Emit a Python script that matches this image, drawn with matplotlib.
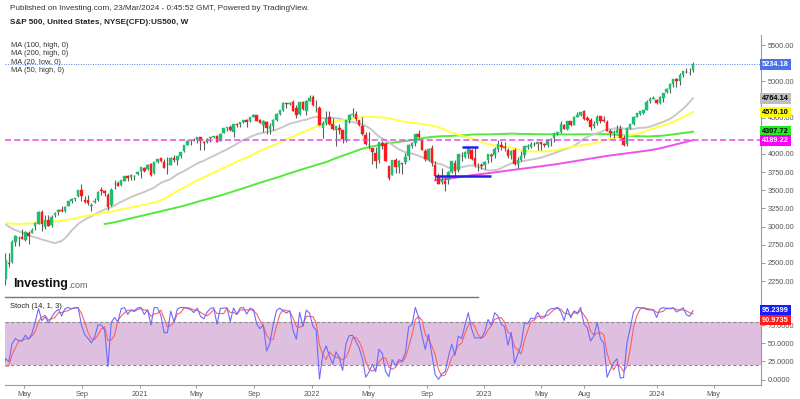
import numpy as np
import pandas as pd
import matplotlib
matplotlib.use("Agg")
import matplotlib.pyplot as plt
import matplotlib.dates as mdates
import matplotlib.transforms as mtransforms
from matplotlib.lines import Line2D

plt.rcParams['font.family'] = ['Liberation Sans', 'DejaVu Sans']

# weekly bars before the visible window (from 26 Nov 2018), only used to warm up MA / Stoch
preHigh = [2760, 2800, 2685, 2602, 2489, 2538,
           2604, 2675, 2681, 2709, 2738, 2776, 2794, 2816, 2812, 2830, 2860, 2836, 2893,
           2910, 2917, 2940, 2954, 2939, 2892, 2871, 2840, 2876, 2911, 2964, 2959, 2996,
           3017, 3017, 3028, 3029, 2943, 2943, 2940, 2940, 2985, 3021, 3022, 3002, 2993,
           2993, 3000, 3028, 3067, 3098, 3121, 3127, 3154, 3146, 3176, 3226, 3248, 3246,
           3282, 3329, 3338, 3285, 3341, 3385, 3394, 3260, 3136, 2882, 2553]
preLow = [2649, 2621, 2583, 2409, 2346, 2443,
          2524, 2582, 2612, 2631, 2681, 2704, 2764, 2775, 2728, 2732, 2800, 2785, 2848,
          2873, 2893, 2898, 2900, 2825, 2801, 2805, 2750, 2729, 2874, 2884, 2912, 2952,
          2966, 2970, 2976, 2914, 2823, 2840, 2834, 2836, 2891, 2979, 2985, 2946, 2856,
          2892, 2952, 2973, 3023, 3066, 3084, 3091, 3115, 3070, 3124, 3183, 3222, 3206,
          3214, 3263, 3280, 3214, 3234, 3315, 3328, 2855, 2901, 2478, 2280]
preClose = [2760, 2633, 2600, 2417, 2486, 2532,
            2596, 2671, 2665, 2707, 2708, 2776, 2793, 2804, 2743, 2822, 2801, 2834, 2893,
            2907, 2905, 2940, 2946, 2881, 2860, 2826, 2752, 2873, 2887, 2950, 2942, 2990,
            3014, 2977, 3026, 2932, 2919, 2889, 2847, 2926, 2979, 3007, 2992, 2962, 2952,
            2970, 2986, 3023, 3067, 3093, 3120, 3110, 3141, 3146, 3169, 3221, 3240, 3235,
            3265, 3330, 3295, 3226, 3328, 3380, 3338, 2954, 2972, 2711, 2305]

# visible weekly candles, from 23 Mar 2020
opens = [2281, 2498, 2514, 2782, 2846, 2854, 2815, 2915, 2913, 3005, 3038, 3199, 2994, 3094,
         3018, 3155, 3205, 3224, 3219, 3288, 3356, 3380, 3419, 3509, 3371, 3363, 3285, 3335,
         3367, 3500, 3493, 3441, 3296, 3583, 3600, 3566, 3634, 3694, 3676, 3694, 3724,
         3764, 3803, 3799, 3856, 3732, 3892, 3939, 3886, 3842, 3844, 3949, 3916, 3969, 4034,
         4124, 4179, 4185, 4191, 4228, 4169, 4170, 4216, 4229, 4249, 4174, 4285, 4356, 4372,
         4296, 4409, 4407, 4437, 4461, 4450, 4514, 4536, 4474, 4402, 4442, 4348, 4385, 4463,
         4553, 4610, 4701, 4689, 4712, 4628, 4548, 4710, 4588, 4733,
         4778, 4656, 4632, 4357, 4431, 4505, 4412, 4333, 4354, 4328, 4188, 4462, 4541, 4547,
         4474, 4385, 4256, 4130, 4081, 4013, 3920, 4153, 4134, 3838, 3715, 3920, 3816, 3880,
         3883, 3966, 4113, 4155, 4269, 4195, 4041, 3910, 4083, 3849, 3682, 3609, 3627, 3638,
         3755, 3881, 3780, 3977, 3956, 4005, 4053, 3939, 3853, 3843,
         3853, 3910, 3989, 3979, 4071, 4120, 4096, 4052, 3992, 4055, 3856, 3917, 3982, 4102,
         4098, 4139, 4134, 4166, 4136, 4126, 4190, 4226, 4283, 4300, 4396, 4337, 4450, 4399,
         4505, 4543, 4590, 4492, 4465, 4385, 4426, 4518, 4473, 4445, 4310, 4284, 4289, 4342,
         4224, 4140, 4358, 4406, 4515, 4554, 4569, 4610, 4726, 4759,
         4745, 4703, 4772, 4853, 4892, 4957, 5026, 4999, 5093, 5131, 5111, 5154]
highs = [2637, 2641, 2818, 2880, 2868, 2965, 2932, 2945, 2980, 3068, 3211, 3233, 3155, 3155,
         3165, 3200, 3238, 3280, 3279, 3352, 3387, 3399, 3509, 3588, 3425, 3428, 3320, 3393,
         3483, 3550, 3502, 3466, 3529, 3646, 3628, 3645, 3701, 3712, 3726, 3711, 3760,
         3826, 3823, 3861, 3870, 3887, 3937, 3950, 3928, 3960, 3960, 3983, 3978, 4020, 4130,
         4191, 4195, 4219, 4238, 4236, 4178, 4218, 4233, 4249, 4262, 4287, 4356, 4372, 4393,
         4415, 4430, 4440, 4469, 4481, 4513, 4546, 4536, 4486, 4466, 4457, 4430, 4475, 4559,
         4608, 4718, 4708, 4718, 4743, 4672, 4713, 4731, 4740, 4808,
         4818, 4749, 4660, 4453, 4595, 4589, 4490, 4385, 4416, 4331, 4465, 4546, 4637, 4594,
         4474, 4513, 4308, 4307, 4081, 4090, 4158, 4177, 4168, 3838, 3914, 3945, 3918, 3880,
         4013, 4140, 4167, 4280, 4325, 4203, 4062, 4076, 4119, 3899, 3733, 3807, 3685, 3764,
         3905, 3911, 4001, 4028, 4034, 4100, 4067, 4101, 3876, 3878,
         3907, 4003, 4016, 4095, 4195, 4176, 4160, 4080, 4049, 4078, 3964, 4039, 4110, 4133,
         4163, 4170, 4170, 4171, 4154, 4212, 4213, 4290, 4299, 4448, 4409, 4458, 4456, 4528,
         4578, 4583, 4607, 4527, 4490, 4458, 4541, 4518, 4527, 4466, 4338, 4324, 4398, 4393,
         4256, 4366, 4415, 4521, 4560, 4597, 4609, 4738, 4778, 4793,
         4754, 4798, 4842, 4903, 4975, 5030, 5048, 5111, 5140, 5189, 5179, 5261]
lows = [2191, 2447, 2505, 2728, 2727, 2830, 2797, 2766, 2909, 2957, 3032, 2936, 2965, 3004,
        3000, 3127, 3166, 3198, 3200, 3284, 3324, 3355, 3410, 3349, 3330, 3293, 3210, 3323,
        3355, 3441, 3425, 3233, 3279, 3511, 3554, 3556, 3622, 3633, 3648, 3636, 3715,
        3663, 3749, 3784, 3694, 3725, 3874, 3885, 3805, 3723, 3841, 3892, 3853, 3949, 4020,
        4118, 4119, 4174, 4146, 4057, 4061, 4152, 4168, 4215, 4164, 4173, 4283, 4321, 4322,
        4233, 4372, 4367, 4427, 4367, 4442, 4513, 4457, 4427, 4306, 4278, 4278, 4332, 4447,
        4537, 4595, 4630, 4672, 4586, 4495, 4540, 4600, 4531, 4733,
        4662, 4582, 4395, 4223, 4405, 4401, 4327, 4115, 4279, 4157, 4161, 4424, 4505, 4450,
        4382, 4267, 4124, 4063, 3859, 3810, 3875, 4074, 3900, 3636, 3705, 3738, 3742, 3721,
        3860, 3911, 4079, 4113, 4218, 4057, 3906, 3908, 3838, 3647, 3584, 3584, 3492, 3591,
        3740, 3698, 3745, 3907, 3938, 3939, 3918, 3827, 3765, 3796,
        3794, 3877, 3885, 3947, 4031, 4060, 4047, 3943, 3928, 3847, 3809, 3901, 3951, 4069,
        4087, 4114, 4049, 4048, 4099, 4099, 4103, 4166, 4261, 4292, 4341, 4328, 4385, 4394,
        4504, 4519, 4466, 4447, 4335, 4356, 4404, 4430, 4442, 4311, 4238, 4216, 4288, 4223,
        4103, 4113, 4343, 4394, 4513, 4537, 4546, 4600, 4695, 4751,
        4682, 4694, 4714, 4842, 4846, 4919, 4920, 4946, 5057, 5114, 5091, 5131]
closes = [2541, 2489, 2790, 2875, 2837, 2831, 2930, 2864, 2955, 3044, 3194, 3041, 3097, 3009,
          3130, 3185, 3224, 3215, 3271, 3351, 3373, 3397, 3508, 3427, 3341, 3319, 3298, 3348,
          3477, 3484, 3465, 3270, 3509, 3585, 3558, 3638, 3699, 3663, 3709, 3703, 3756,
          3825, 3768, 3841, 3714, 3887, 3934, 3907, 3811, 3842, 3943, 3913, 3975, 4020, 4129,
          4185, 4180, 4181, 4233, 4174, 4156, 4204, 4230, 4247, 4166, 4281, 4352, 4370, 4327,
          4412, 4395, 4437, 4468, 4442, 4509, 4535, 4459, 4433, 4455, 4357, 4391, 4471, 4545,
          4605, 4697, 4683, 4698, 4595, 4538, 4712, 4621, 4725, 4766,
          4677, 4663, 4398, 4432, 4501, 4419, 4349, 4385, 4329, 4204, 4463, 4543, 4546, 4488,
          4392, 4272, 4132, 4123, 4024, 3901, 4158, 4108, 3901, 3675, 3912, 3825, 3899, 3863,
          3962, 4130, 4145, 4280, 4228, 4058, 3924, 4067, 3873, 3693, 3586, 3640, 3583, 3753,
          3901, 3771, 3993, 3965, 4026, 4072, 3934, 3852, 3845, 3840,
          3895, 3999, 3972, 4071, 4136, 4090, 4079, 3970, 4046, 3862, 3917, 3971, 4109, 4105,
          4138, 4133, 4169, 4136, 4124, 4192, 4205, 4282, 4299, 4410, 4348, 4450, 4399, 4505,
          4536, 4582, 4478, 4464, 4370, 4406, 4515, 4457, 4450, 4320, 4288, 4308, 4328, 4224,
          4117, 4358, 4415, 4514, 4559, 4595, 4604, 4719, 4754, 4769,
          4697, 4783, 4840, 4891, 4959, 5027, 5006, 5089, 5137, 5124, 5117, 5234.18]

# moving averages: (period, source, colour)
maSpecs = [(100, "high", "#55E83C"), (200, "high", "#F050F0"),
           (20, "low", "#C8C8C8"), (50, "high", "#FFFF44")]
maLegend = ["MA (100, high, 0)", "MA (200, high, 0)", "MA (20, low, 0)", "MA (50, high, 0)"]

# price tags on the right axis: (value, text, background, text colour)
priceTags = [(5234.18, "5234.18", "#4A72E6", "white"), (4764.14, "4764.14", "#BDBDBD", "black"),
             (4576.10, "4576.10", "#FFFF00", "black"), (4307.72, "4307.72", "#22EE22", "black"),
             (4189.22, "4189.22", "#FF00FF", "white")]
stochTags = [(96.0, "95.2399", "#1A1AFF"), (82.5, "90.9735", "#FF1A1A")]

# drawings on the chart
hLevel = 4189.22
blueLines = [("2022-09-19", "2023-01-16", 3700), ("2022-11-14", "2022-12-19", 4100)]

priceTicks = [2250, 2500, 2750, 3000, 3250, 3500, 3750, 4000, 4500, 5000, 5500]
stochTicks = [0, 25, 50, 75]
tickDates = ["2020-05-01", "2020-09-01", "2021-01-01", "2021-05-01", "2021-09-01", "2022-01-01",
             "2022-05-01", "2022-09-01", "2023-01-01", "2023-05-01", "2023-08-01", "2024-01-01",
             "2024-05-01"]
tickLabels = ["May", "Sep", "2021", "May", "Sep", "2022", "May", "Sep", "2023", "May", "Aug",
              "2024", "May"]

W, H = 800, 399
fig = plt.figure(figsize=(W / 100, H / 100), dpi=100)
fig.patch.set_facecolor("white")


def pxBox(x0, y0, x1, y1):
    return [x0 / W, 1 - y1 / H, (x1 - x0) / W, (y1 - y0) / H]


axPrice = fig.add_axes(pxBox(5, 35, 761, 297))
axStoch = fig.add_axes(pxBox(5, 298, 761, 385), sharex=axPrice)

dates = pd.date_range("2020-03-23", periods=len(closes), freq="W-MON")
allDates = pd.date_range("2018-11-26", periods=len(preClose) + len(closes), freq="W-MON")
x = mdates.date2num(dates)
xAll = mdates.date2num(allDates)

o = np.array(opens, float)
h = np.array(highs, float)
l = np.array(lows, float)
c = np.array(closes, float)
allHigh = pd.Series(preHigh + highs, dtype=float)
allLow = pd.Series(preLow + lows, dtype=float)
allClose = pd.Series(preClose + closes, dtype=float)

# candles
bodyColors = np.where(c >= o, "#1DBF73", "#FF1A1A")
axPrice.vlines(x, l, h, color="#5E5E5E", lw=0.8, zorder=3)
axPrice.bar(x, np.abs(c - o), bottom=np.minimum(o, c), width=5.4, color=bodyColors,
            edgecolor=bodyColors, linewidth=0.3, zorder=4)

# moving averages
for period, src, col in maSpecs:
    base = allHigh if src == "high" else allLow
    axPrice.plot(xAll, base.rolling(period).mean(), color=col, lw=1.4, zorder=2)

axPrice.axhline(hLevel, color="#E64CE6", lw=1.1, ls=(0, (4, 2)), zorder=5)
axPrice.axhline(c[-1], color="#5B7FE8", lw=0.7, ls=(0, (1, 1.5)), zorder=5)
for d0, d1, lvl in blueLines:
    axPrice.plot(mdates.date2num(pd.to_datetime([d0, d1])), [lvl, lvl], color="#2222DD",
                 lw=1.8, zorder=6, solid_capstyle="butt")

axPrice.set_ylim(2030, 5638)
axPrice.set_xlim(mdates.date2num(pd.Timestamp("2020-03-22")),
                 mdates.date2num(pd.Timestamp("2024-08-09")))

# stochastic (14, 1, 3)
hh = allHigh.rolling(14).max()
ll = allLow.rolling(14).min()
kLine = 100 * (allClose - ll) / (hh - ll)
dLine = kLine.rolling(3).mean()
axStoch.axhspan(20, 80, color="#DFBFDF", zorder=1, lw=0)
for lvl in (20, 80):
    axStoch.axhline(lvl, color="#8C8C8C", lw=0.8, ls=(0, (3, 2)), zorder=2)
axStoch.plot(xAll, kLine, color="#6B6BFF", lw=0.8, zorder=4)
axStoch.plot(xAll, dLine, color="#FF6060", lw=0.8, zorder=3)
axStoch.set_ylim(-7.6, 113)

for ax in (axPrice, axStoch):
    for side in ("top", "left", "bottom"):
        ax.spines[side].set_visible(False)
    ax.spines["right"].set_color("#9A9A9A")
    ax.yaxis.tick_right()
    ax.tick_params(axis="y", length=3, width=0.6, color="#8A8A8A", labelsize=5.3,
                   labelcolor="#555555", pad=2)
    ax.set_facecolor("none")

axStoch.spines["bottom"].set_visible(True)
axStoch.spines["bottom"].set_color("#9A9A9A")
axPrice.set_yticks(priceTicks, [f"{v:.2f}" for v in priceTicks])
axStoch.set_yticks(stochTicks, [f"{v:.4f}" for v in stochTicks])
axPrice.tick_params(axis="x", bottom=False, labelbottom=False)
axStoch.set_xticks(mdates.date2num(pd.to_datetime(tickDates)), tickLabels)
axStoch.tick_params(axis="x", length=2, width=0.6, color="#8A8A8A", labelsize=5.3,
                    labelcolor="#555555", pad=2)

# value tags on the right axis
tr = mtransforms.blended_transform_factory(axPrice.transAxes, axPrice.transData)
for val, txt, bg, fg in priceTags:
    axPrice.text(1.0015, val, txt, transform=tr, ha="left", va="center", fontsize=5.3,
                 color=fg, weight="bold", clip_on=False, zorder=10,
                 bbox=dict(boxstyle="square,pad=0.25", fc=bg, ec="none"))
trS = mtransforms.blended_transform_factory(axStoch.transAxes, axStoch.transData)
for val, txt, bg in stochTags:
    axStoch.text(1.0015, val, txt, transform=trS, ha="left", va="center", fontsize=5.3,
                 color="white", weight="bold", clip_on=False, zorder=10,
                 bbox=dict(boxstyle="square,pad=0.25", fc=bg, ec="none"))

# headers and legends
fig.text(10 / W, 1 - 9 / H, "Published on Investing.com, 23/Mar/2024 - 0:45:52 GMT, Powered by TradingView.",
         fontsize=5.9, color="#333333", va="center")
fig.text(10 / W, 1 - 23 / H, "S&P 500, United States, NYSE(CFD):US500, W", fontsize=5.9,
         weight="bold", color="#222222", va="center")
for i, name in enumerate(maLegend):
    fig.text(11 / W, 1 - (45.5 + i * 8.4) / H, name, fontsize=5.4, color="#333333", va="center")
fig.text(10 / W, 1 - 307 / H, "Stoch (14, 1, 3)", fontsize=5.4, color="#222222", va="center")
fig.text(13 / W, 1 - 284 / H, "Investing", fontsize=9, weight="bold", color="#111111", va="center")
fig.text(68 / W, 1 - 285 / H, ".com", fontsize=6.5, color="#666666", va="center")

fig.add_artist(Line2D([5 / W, 478 / W], [1 - 297 / H, 1 - 297 / H], color="#777777", lw=1))

fig.savefig("out.png", dpi=100)
